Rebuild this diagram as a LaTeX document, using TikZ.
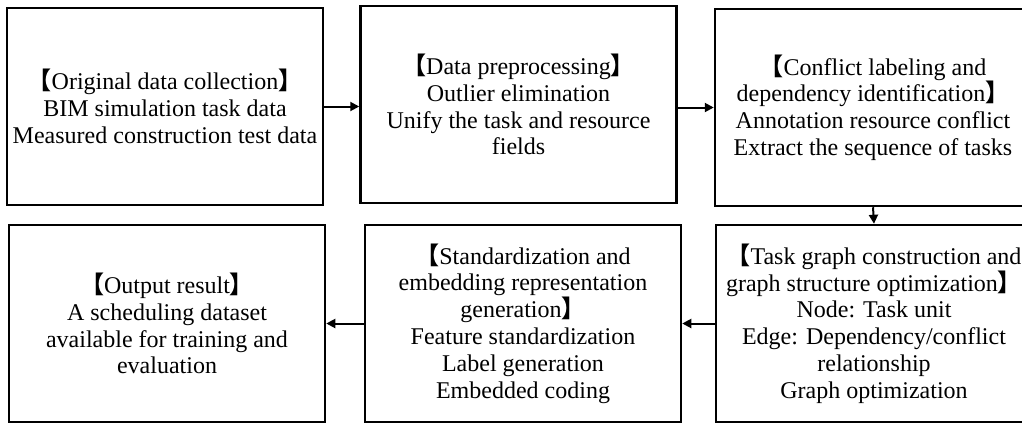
\documentclass[tikz,border=0pt]{standalone}
\usepackage{fontspec}
\setmainfont{Liberation Serif}
\newfontfamily\cjk{Noto Sans CJK SC}
\usetikzlibrary{arrows.meta}
\newcommand{\lb}{{\cjk\bfseries 【}}
\newcommand{\rb}{{\cjk\bfseries 】}}
\tikzset{
  stage/.style={draw=black, line width=2.5pt, rectangle, align=center,
    inner sep=0pt, minimum width=316pt, minimum height=197pt,
    font=\fontsize{24}{26.8}\selectfont},
  arr/.style={line width=2pt, -{Triangle[length=9pt,width=9pt]}}
}
\begin{document}
\begin{tikzpicture}[x=1pt,y=-1pt]
\path[use as bounding box, clip] (0,0) rectangle (1022,424);
\fill[white] (0,0) rectangle (1022,424);
\node[stage] (b1) at (165,106.5)
  {\lb Original data collection\rb\\BIM simulation task data\\Measured construction test data};
\node[stage] (b2) at (518.5,104.5)
  {\lb Data preprocessing\rb\\Outlier elimination\\Unify the task and resource\\fields};
\node[stage] (b3) at (873,107.5)
  {\lb Conflict labeling and\\dependency identification\rb\\Annotation resource conflict\\Extract the sequence of tasks};
\node[stage] (b4) at (874,323.5)
  {\lb Task graph construction and\\graph structure optimization\rb\\Node: Task unit\\Edge: Dependency/conflict\\relationship\\Graph optimization};
\node[stage] (b5) at (523,323.5)
  {\lb Standardization and\\embedding representation\\generation\rb\\Feature standardization\\Label generation\\Embedded coding};
\node[stage] (b6) at (167,323.5)
  {\lb Output result\rb\\A scheduling dataset\\available for training and\\evaluation};
\draw[arr] (b1.east) -- (b1.east -| b2.west);
\draw[arr] (b3.west -| b2.east) -- (b3.west);
\draw[arr] (b3.south) -- (b4.north);
\draw[arr] (b4.west) -- (b5.east);
\draw[arr] (b5.west) -- (b6.east);
\end{tikzpicture}
\end{document}
